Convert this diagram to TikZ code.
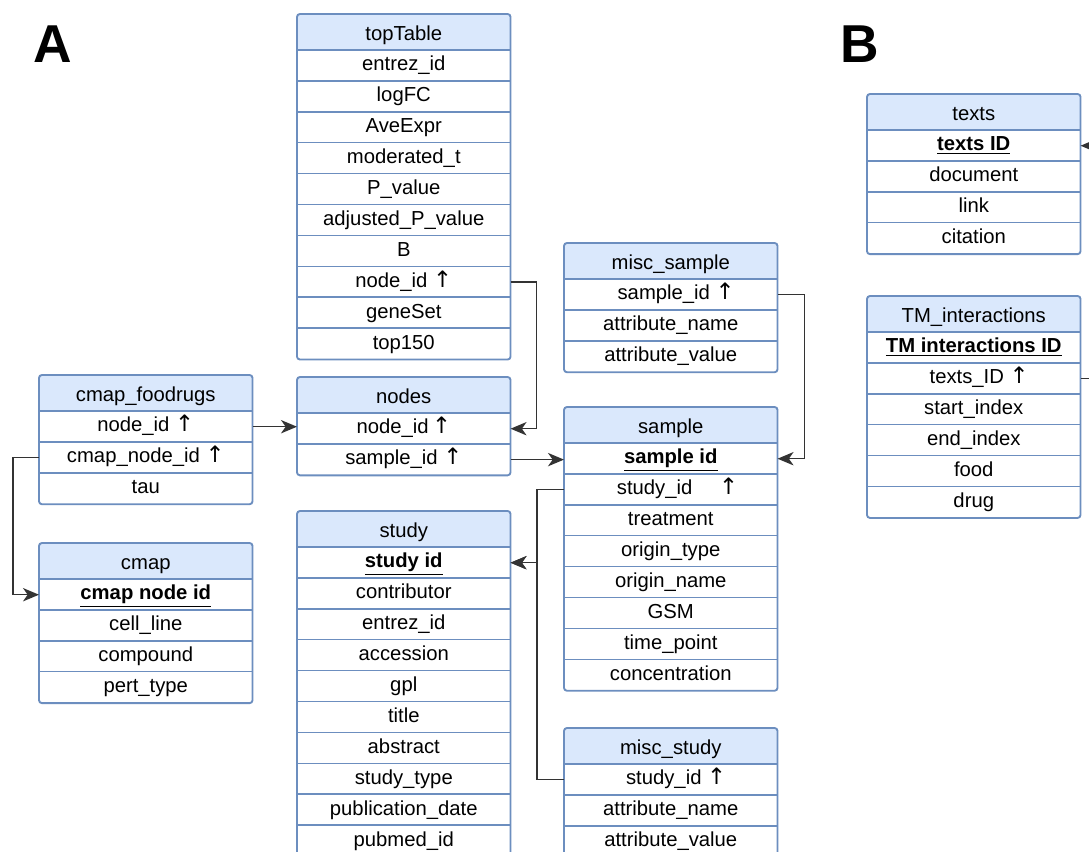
\documentclass[tikz,border=0pt]{standalone}
\usepackage{fontspec}
\setmainfont{Liberation Sans}
\newfontfamily\arrowfont{DejaVu Sans}
\usetikzlibrary{arrows.meta,calc}
\definecolor{bd}{HTML}{6C8EBF}
\definecolor{hd}{HTML}{DAE8FC}
\definecolor{ln}{HTML}{333333}
\tikzset{
  cellfont/.style={font=\fontsize{15.2}{17}\selectfont,text height=11pt,text depth=3.2pt},
  hdr/.style={fill=hd,minimum width=159.75pt,minimum height=27pt,inner sep=0pt,anchor=north west,cellfont,text height=12.5pt,text depth=0pt},
  rowc/.style={minimum width=159.75pt,minimum height=23.175pt,inner sep=0pt,anchor=north west,cellfont},
  sep/.style={draw=bd,line width=1.1pt},
  frame/.style={draw=bd,line width=1.4pt,rounded corners=2.2pt},
  conn/.style={draw=ln,line width=1.1pt,-{Stealth[length=12pt,width=10pt,inset=3.5pt]}},
  panel/.style={font=\fontsize{40}{42}\selectfont\bfseries,inner sep=0pt}
}
\newcommand\pk[1]{\textbf{\underline{#1}}}
\newcommand\up{{\arrowfont\fontsize{17}{17}\selectfont ↑}}
\newcommand\mktable[5]{%
  \node[hdr] (#1) at (#2,#3) {#4};
  \foreach \t [count=\i] in {#5} {
    \node[rowc] (#1-\i) at ({#2},{#3+36+(\i-1)*30.9}) {\t};
    \draw[sep] (#1-\i.north west) -- (#1-\i.north east);
    \xdef\lastrow{\i}
  }
  \draw[frame] (#1.north west) rectangle (#1-\lastrow.south east);
}
\begin{document}
\begin{tikzpicture}[x=0.75pt,y=-0.75pt]
\clip (0,0) rectangle (1089,852);
\fill[white] (0,0) rectangle (1089,852);
\node[panel] (A) at (53,44) {A};
\node[panel] (B) at (860,44) {B};

\mktable{top}{297}{14}{topTable}{entrez\_id,logFC,AveExpr,moderated\_t,P\_value,adjusted\_P\_value,B,node\_id \up,geneSet,top150}
\mktable{nodes}{297}{377}{nodes}{node\_id\,\up,sample\_id \up}
\mktable{cf}{39}{375}{cmap\_foodrugs}{node\_id \up,cmap\_node\_id \up,tau}
\mktable{cmap}{39}{543}{cmap}{\pk{cmap node id},cell\_line,compound,pert\_type}
\mktable{study}{297}{511}{study}{\pk{study id},contributor,entrez\_id,accession,gpl,title,abstract,study\_type,publication\_date,pubmed\_id}
\mktable{ms}{564}{243}{misc\_sample}{\hspace{8pt}sample\_id \up,attribute\_name,attribute\_value}
\mktable{sample}{564}{407}{sample}{\pk{sample id},\hspace{10pt}study\_id\hspace{20pt}\up,treatment,origin\_type,origin\_name,GSM,time\_point,concentration}
\mktable{mst}{564}{728}{misc\_study}{\hspace{8pt}study\_id \up,attribute\_name,attribute\_value}
\mktable{texts}{867}{94}{texts}{\pk{texts ID},document,link,citation}
\mktable{tm}{867}{296}{TM\_interactions}{\pk{TM interactions ID},\hspace{8pt}texts\_ID \up,start\_index,end\_index,food,drug}

% connectors
\draw[conn] (top-8.east) -- ++(26,0) |- (nodes-1.east);
\draw[conn] (cf-1.east) -- (cf-1.east -| nodes-1.west);
\draw[conn] (cf-2.west) -- ++(-26,0) |- (cmap-1.west);
\draw[conn] (nodes-2.east) -- (nodes-2.east -| sample-1.west);
\draw[conn] (ms-1.east) -- ++(27,0) |- (sample-1.east);
\draw[conn] (sample-2.west) -- ++(-27,0) |- (study-1.east);
\draw[conn] (mst-1.west) -- ++(-27,0) |- (study-1.east);
\draw[conn] (tm-2.east) -- ++(24,0) |- (texts-1.east);
\end{tikzpicture}
\end{document}
